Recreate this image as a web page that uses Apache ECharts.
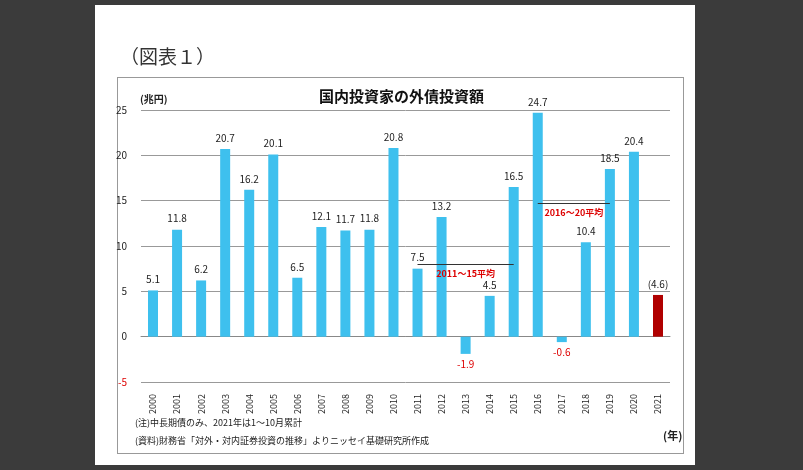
<!DOCTYPE html><html><head><meta charset="utf-8"><script src="https://cdn.jsdelivr.net/npm/echarts@6/dist/echarts.min.js"></script>
<style>body{margin:0;background:#3b3b3b}#w{position:absolute;left:95px;top:5px;width:600px;height:460px;background:#fff}#b{position:absolute;left:22px;top:72px;width:565px;height:375px;border:1px solid #999}#c{position:absolute;left:0;top:0;width:803px;height:470px}</style></head><body>
<div id="w"><div id="b"></div></div><div id="c"></div>
<script>
const years=["2000","2001","2002","2003","2004","2005","2006","2007","2008","2009","2010","2011","2012","2013","2014","2015","2016","2017","2018","2019","2020","2021"];
const values=[5.1,11.8,6.2,20.7,16.2,20.1,6.5,12.1,11.7,11.8,20.8,7.5,13.2,-1.9,4.5,16.5,24.7,-0.6,10.4,18.5,20.4,4.6];
const avg1=8.0, avg2=14.7;
const ch=echarts.init(document.getElementById('c'));
const f="'Noto Sans CJK JP',sans-serif";
ch.setOption({animation:false,textStyle:{fontFamily:f},
graphic:[
{type:'text',left:120,top:47,style:{text:'（図表１）',fontSize:19,fill:'#333',fontFamily:f}},
{type:'text',left:140,top:94,style:{text:'(兆円)',fontSize:10,fontWeight:'bold',fill:'#222',fontFamily:f}},
{type:'text',left:663,top:430,style:{text:'(年)',fontSize:11,fontWeight:'bold',fill:'#222',fontFamily:f}},
{type:'text',left:135,top:418,style:{text:'(注)中長期債のみ、2021年は1〜10月累計',fontSize:9,fill:'#222',fontFamily:f}},
{type:'text',left:135,top:436,style:{text:'(資料)財務省「対外・対内証券投資の推移」よりニッセイ基礎研究所作成',fontSize:9,fill:'#222',fontFamily:f}}],
title:{text:'国内投資家の外債投資額',left:'center',top:84,textStyle:{fontSize:15,fontWeight:'bold',color:'#111',fontFamily:f}},
grid:{left:141,right:133,top:110,bottom:88},
xAxis:{type:'category',data:years,axisTick:{show:false},axisLine:{onZero:true,lineStyle:{color:'#888'}},axisLabel:{rotate:90,fontSize:9,color:'#222',interval:0,margin:12}},
yAxis:{type:'value',min:-5,max:25,interval:5,axisLine:{show:false},axisTick:{show:false},splitLine:{lineStyle:{color:'#999'}},
axisLabel:{fontSize:10,color:'#222',margin:14,formatter:v=>v<0?'{r|'+v+'}':v,rich:{r:{color:'#d00',fontSize:10}}}},
series:[{type:'bar',barWidth:10,data:values.map((v,i)=>({value:v,itemStyle:{color:i==21?'#b00000':'#3ec0ee'},label:v<0?{position:'bottom',distance:5,color:'#d00'}:{}})),
label:{show:true,position:'top',distance:6,fontSize:10,color:'#222',formatter:p=>p.dataIndex==21?'('+p.value+')':p.value},
markLine:{symbol:'none',silent:true,lineStyle:{color:'#333',type:'solid',width:1},
label:{position:'insideMiddleBottom',color:'#d00',fontSize:9,fontWeight:'bold'},
data:[[{coord:['2011',avg1],label:{formatter:'2011〜15平均'}},{coord:['2015',avg1]}],[{coord:['2016',avg2],label:{formatter:'2016〜20平均'}},{coord:['2019',avg2]}]]}}]});
</script></body></html>
